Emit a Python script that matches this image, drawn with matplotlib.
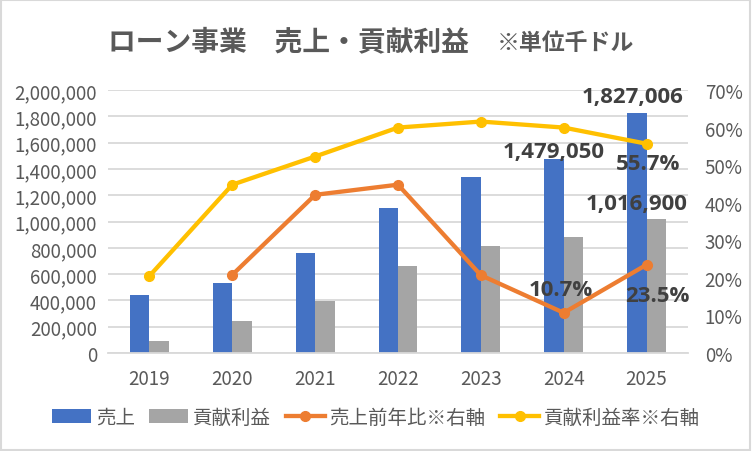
import numpy as np
import matplotlib.pyplot as plt
from matplotlib.patches import Rectangle
from matplotlib.ticker import FuncFormatter, MultipleLocator

plt.rcParams['font.family'] = ['Noto Sans CJK JP', 'DejaVu Sans']

# Data (thousand dollars)
years = ['2019', '2020', '2021', '2022', '2023', '2024', '2025']
sales = [443000, 535000, 757000, 1105000, 1336000, 1479050, 1827006]
profit = [88000, 243000, 392000, 658000, 816000, 883000, 1016900]
sales_yoy = [np.nan, 0.208, 0.421, 0.448, 0.207, 0.107, 0.235]
profit_rate = [0.205, 0.448, 0.523, 0.600, 0.616, 0.600, 0.557]

blue = '#4472c4'
gray = '#a5a5a5'
orange = '#ed7d31'
yellow = '#ffc000'
text_col = '#595959'
label_col = '#404040'
grid_col = '#d9d9d9'


def main():
    fig = plt.figure(figsize=(7.52, 4.52), dpi=100)
    ax = fig.add_axes([108 / 752, 1 - 354 / 452, 580 / 752, 263 / 452])
    ax2 = ax.twinx()

    x = np.arange(len(years))
    w = 0.235
    ax.bar(x - w / 2, sales, w, color=blue, label='売上', zorder=2)
    ax.bar(x + w / 2, profit, w, color=gray, label='貢献利益', zorder=2)

    ax2.plot(x, sales_yoy, color=orange, lw=3.1, marker='o', ms=7,
             label='売上前年比※右軸', zorder=3)
    ax2.plot(x, profit_rate, color=yellow, lw=3.1, marker='o', ms=7,
             label='貢献利益率※右軸', zorder=3)

    ax.set_xlim(-0.5, len(years) - 0.5)
    ax.set_ylim(0, 2000000)
    ax2.set_ylim(0, 0.7)
    ax.yaxis.set_major_locator(MultipleLocator(200000))
    ax2.yaxis.set_major_locator(MultipleLocator(0.1))
    ax.yaxis.set_major_formatter(FuncFormatter(lambda v, p: f'{int(v):,}'))
    ax2.yaxis.set_major_formatter(FuncFormatter(lambda v, p: f'{v * 100:.0f}%'))
    ax.set_xticks(x)
    ax.set_xticklabels(years)

    ax.grid(axis='y', color=grid_col, lw=1.3, zorder=0)
    ax.set_axisbelow(True)
    for a in (ax, ax2):
        for s in a.spines.values():
            s.set_visible(False)
        a.tick_params(length=0, labelsize=13.5, labelcolor=text_col, pad=8)
    ax.tick_params(axis='x', pad=11)
    ax2.tick_params(pad=12)
    ax.spines['bottom'].set_visible(True)
    ax.spines['bottom'].set_color(grid_col)
    ax.spines['bottom'].set_linewidth(1.3)

    # data labels
    lab = dict(fontsize=16, fontweight='bold', color=label_col,
               ha='center', va='center', textcoords='offset points',
               family=['Open Sans', 'DejaVu Sans'])
    ax.annotate(f'{sales[6]:,}', (x[6] - w / 2, sales[6]), xytext=(-3, 12), **lab)
    ax.annotate(f'{sales[5]:,}', (x[5] - w / 2, sales[5]), xytext=(0, 5), **lab)
    ax.annotate(f'{profit[6]:,}', (x[6] + w / 2, profit[6]), xytext=(-14, 11), **lab)
    ax2.annotate(f'{profit_rate[6] * 100:.1f}%', (x[6], profit_rate[6]), xytext=(1, -14), **lab)
    ax2.annotate(f'{sales_yoy[5] * 100:.1f}%', (x[5], sales_yoy[5]), xytext=(-2, 17), **lab)
    ax2.annotate(f'{sales_yoy[6] * 100:.1f}%', (x[6], sales_yoy[6]), xytext=(8, -22), **lab)

    # title
    fig.text(108 / 752, 1 - 42 / 452, 'ローン事業　売上・貢献利益', fontsize=20,
             fontweight='bold', color=text_col, va='center', ha='left')
    fig.text(497 / 752, 1 - 43 / 452, '※単位千ドル', fontsize=16.5,
             fontweight='bold', color=text_col, va='center', ha='left')

    h1, l1 = ax.get_legend_handles_labels()
    h2, l2 = ax2.get_legend_handles_labels()
    fig.legend(h1 + h2, l1 + l2, loc='center', bbox_to_anchor=(0.5, 1 - 418 / 452),
               ncol=4, frameon=False, fontsize=14, handlelength=2.0,
               handletextpad=0.25, columnspacing=0.75, labelcolor=text_col)

    fig.patches.append(Rectangle((0.001, 0.002), 0.997, 0.995, transform=fig.transFigure,
                                 fill=False, edgecolor=grid_col, lw=1.5))

    fig.savefig('out.png', dpi=100)


if __name__ == "__main__":
    main()
